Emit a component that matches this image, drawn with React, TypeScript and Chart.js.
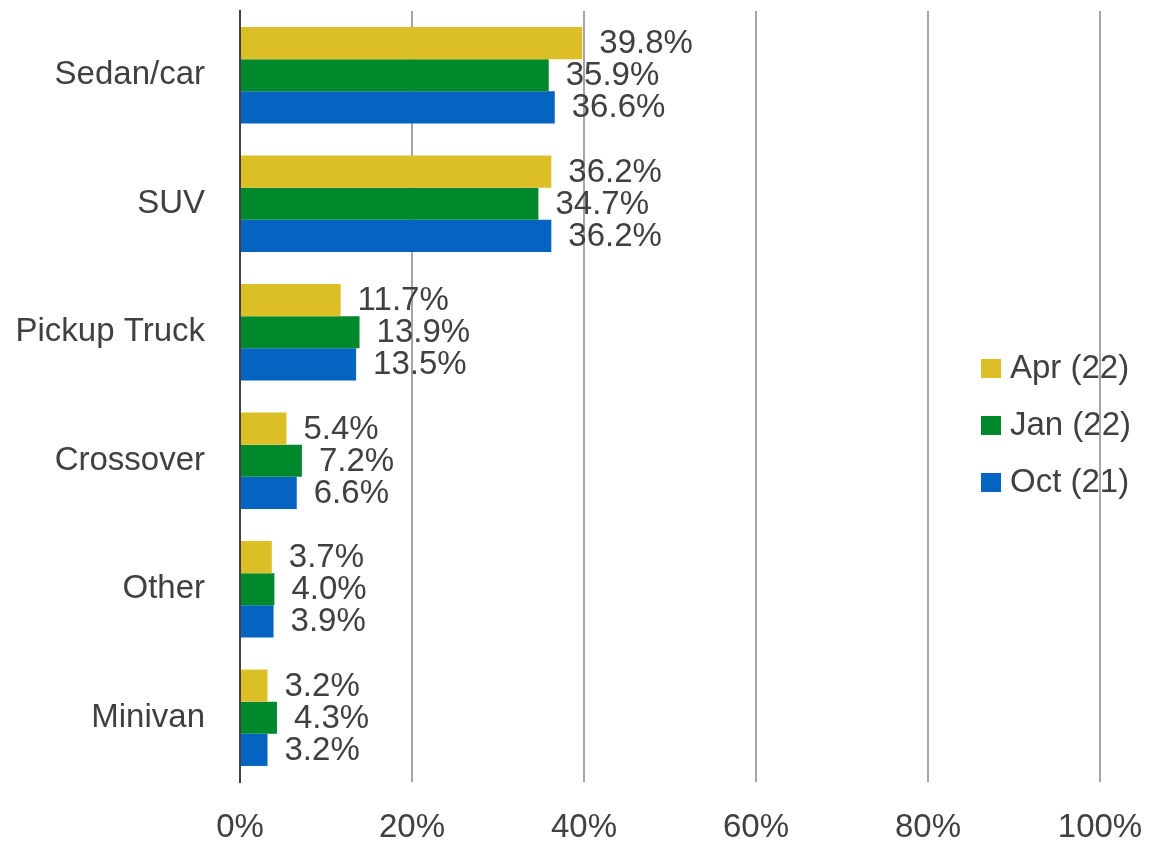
import React, { useEffect, useRef } from "react";
import { Chart, registerables } from "chart.js";

Chart.register(...registerables);

const categories = ["Sedan/car", "SUV", "Pickup Truck", "Crossover", "Other", "Minivan"];
const seriesNames = ["Apr (22)", "Jan (22)", "Oct (21)"];
const apr22 = [39.8, 36.2, 11.7, 5.4, 3.7, 3.2];
const jan22 = [35.9, 34.7, 13.9, 7.2, 4.0, 4.3];
const oct21 = [36.6, 36.2, 13.5, 6.6, 3.9, 3.2];
const xTicks = [0, 20, 40, 60, 80, 100];

const COLORS = ["#dcbe26", "#00892c", "#0563c1"];
const TEXT = "#404040";
const FONT = "Liberation Sans, Arial, sans-serif";
const FS = 33;

const valueLabels = {
  id: "valueLabels",
  afterDatasetsDraw(chart: any) {
    const ctx = chart.ctx;
    ctx.save();
    ctx.font = `${FS}px ${FONT}`;
    ctx.fillStyle = TEXT;
    ctx.textAlign = "left";
    ctx.textBaseline = "middle";
    chart.data.datasets.forEach((ds: any, i: number) => {
      const meta = chart.getDatasetMeta(i);
      meta.data.forEach((bar: any, j: number) => {
        const v = ds.data[j];
        ctx.fillText(v.toFixed(1) + "%", bar.x + 17, bar.y + 1);
      });
    });
    ctx.restore();
  },
};

const customLegend = {
  id: "customLegend",
  beforeDraw(chart: any) {
    const ctx = chart.ctx;
    ctx.save();
    ctx.font = `${FS}px ${FONT}`;
    ctx.textAlign = "left";
    ctx.textBaseline = "middle";
    const ys = [368, 425, 482];
    seriesNames.forEach((name, i) => {
      ctx.fillStyle = COLORS[i];
      ctx.fillRect(981, ys[i] - 9, 20, 19);
      ctx.fillStyle = TEXT;
      ctx.fillText(name, 1010, ys[i] + 1);
    });
    ctx.restore();
  },
};

export default function App() {
  const ref = useRef<HTMLCanvasElement>(null);
  useEffect(() => {
    if (!ref.current) return;
    const chart = new Chart(ref.current, {
      type: "bar",
      data: {
        labels: categories,
        datasets: [
          { label: seriesNames[0], data: apr22, backgroundColor: COLORS[0] },
          { label: seriesNames[1], data: jan22, backgroundColor: COLORS[1] },
          { label: seriesNames[2], data: oct21, backgroundColor: COLORS[2] },
        ],
      },
      options: {
        indexAxis: "y",
        animation: false,
        responsive: false,
        maintainAspectRatio: false,
        layout: { padding: { top: 11, right: 53, left: 0, bottom: 0 } },
        datasets: { bar: { categoryPercentage: 0.75, barPercentage: 1 } },
        plugins: { legend: { display: false }, tooltip: { enabled: false } },
        scales: {
          x: {
            min: 0,
            max: 100,
            afterBuildTicks(scale: any) {
              scale.ticks = xTicks.map((v) => ({ value: v }));
            },
            afterFit(scale: any) {
              scale.height = 64;
              scale.paddingLeft = 0;
              scale.paddingRight = 0;
            },
            border: { display: false },
            grid: {
              drawTicks: false,
              lineWidth: 2,
              color: (c: any) => (c.tick && c.tick.value === 0 ? "rgba(0,0,0,0)" : "#a6a6a6"),
            },
            ticks: {
              padding: 26,
              color: TEXT,
              maxRotation: 0,
              font: { family: FONT, size: FS },
              callback: (v: any) => v + "%",
            },
          },
          y: {
            afterFit(scale: any) {
              scale.width = 240;
              scale.paddingTop = 0;
              scale.paddingBottom = 0;
            },
            border: { display: true, color: "#404040", width: 2 },
            grid: { display: false, drawTicks: false },
            ticks: {
              padding: 35,
              color: TEXT,
              font: { family: FONT, size: FS },
            },
          },
        },
      },
      plugins: [valueLabels, customLegend],
    });
    return () => chart.destroy();
  }, []);
  return (
    <div style={{ position: "fixed", left: 0, top: 0, width: 1153, height: 846, background: "#fff" }}>
      <canvas ref={ref} width={1153} height={846} style={{ width: 1153, height: 846 }} />
    </div>
  );
}
